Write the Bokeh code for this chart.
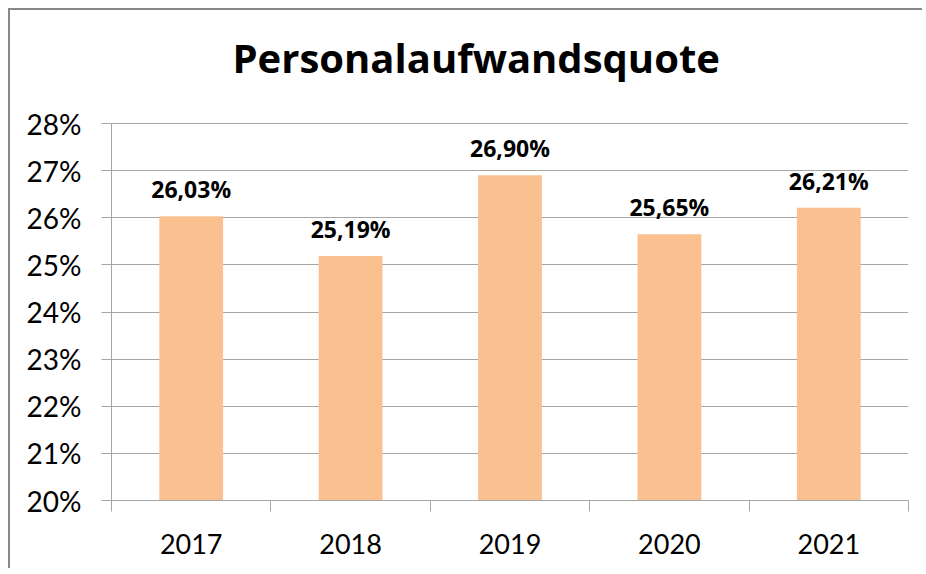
from bokeh.plotting import figure
from bokeh.models import (ColumnDataSource, FixedTicker, PrintfTickFormatter, Range1d, LabelSet,
                          Label, GlobalInlineStyleSheet)
from bokeh.core.properties import value
from bokeh.embed import file_html
from bokeh.resources import INLINE

title_text = "Personalaufwandsquote"
years = ["2017", "2018", "2019", "2020", "2021"]
quote_pct = [26.03, 25.19, 26.90, 25.65, 26.21]
y_ticks = [20, 21, 22, 23, 24, 25, 26, 27, 28]

xs = [i + 0.5 for i in range(len(years))]
labels = [f"{v:.2f}%".replace(".", ",") for v in quote_pct]
src = ColumnDataSource(dict(x=xs, top=quote_pct, lab=labels))

FONT = "Lato"
BFONT = "Open Sans"
GRID = "#A6A6A6"

W, H = 914, 560
FRAME_BOTTOM = 490          # canvas px
PLOT_TOP = 113              # canvas px where the 28% line sits
px_per_unit = (FRAME_BOTTOM - PLOT_TOP) / (y_ticks[-1] - y_ticks[0])
y_end = y_ticks[-1] + PLOT_TOP / px_per_unit

p = figure(width=W, height=H, output_backend="svg", toolbar_location=None,
           x_range=Range1d(0, len(years)), y_range=Range1d(y_ticks[0], y_end),
           min_border_left=101, min_border_right=W - 898, min_border_top=0,
           min_border_bottom=H - FRAME_BOTTOM)
p.stylesheets = [GlobalInlineStyleSheet(css="html, body { overflow: hidden; }")]
p.styles = {"margin-left": "10px", "margin-top": "10px",
            "box-shadow": "-2px -2px 0 0 #888888"}
p.outline_line_color = None
p.background_fill_color = "white"
p.border_fill_color = "white"

p.vbar(x="x", top="top", bottom=y_ticks[0], width=0.4, source=src,
       fill_color="#FAC090", line_color=None)

p.add_layout(LabelSet(x="x", y="top", text="lab", source=src, text_align="center",
                      text_baseline="bottom", y_offset=11, text_font=value(BFONT),
                      text_font_style="bold", text_font_size="23px", text_color="#000000"))

p.add_layout(Label(x=121, y=FRAME_BOTTOM - 47, x_units="screen", y_units="screen",
                   text=title_text, text_align="left", text_baseline="alphabetic",
                   text_font=BFONT, text_font_style="bold", text_font_size="40px",
                   text_color="#000000"))

# y axis
p.yaxis.bounds = (y_ticks[0], y_ticks[-1])
p.yaxis.ticker = FixedTicker(ticks=y_ticks)
p.yaxis.formatter = PrintfTickFormatter(format="%d%%")
p.yaxis.major_tick_in = 0
p.yaxis.major_tick_out = 10
p.yaxis.minor_tick_line_color = None
p.yaxis.axis_line_color = GRID
p.yaxis.major_tick_line_color = GRID
p.yaxis.major_label_standoff = 20
p.yaxis.major_label_text_font = FONT
p.yaxis.major_label_text_font_size = "28px"
p.yaxis.major_label_text_color = "#000000"

# x axis
p.xaxis.ticker = FixedTicker(ticks=xs, minor_ticks=list(range(len(years) + 1)))
p.xaxis.major_label_overrides = {x: y for x, y in zip(xs, years)}
p.xaxis.major_tick_in = 0
p.xaxis.major_tick_out = 0
p.xaxis.minor_tick_in = 0
p.xaxis.minor_tick_out = 11
p.xaxis.minor_tick_line_color = GRID
p.xaxis.axis_line_color = GRID
p.xaxis.major_label_standoff = 22
p.xaxis.major_label_text_font = FONT
p.xaxis.major_label_text_font_size = "27px"
p.xaxis.major_label_text_color = "#000000"

p.xgrid.grid_line_color = None
p.ygrid.grid_line_color = GRID
p.ygrid.grid_line_width = 1

open("out.html", "w").write(file_html(p, INLINE))
